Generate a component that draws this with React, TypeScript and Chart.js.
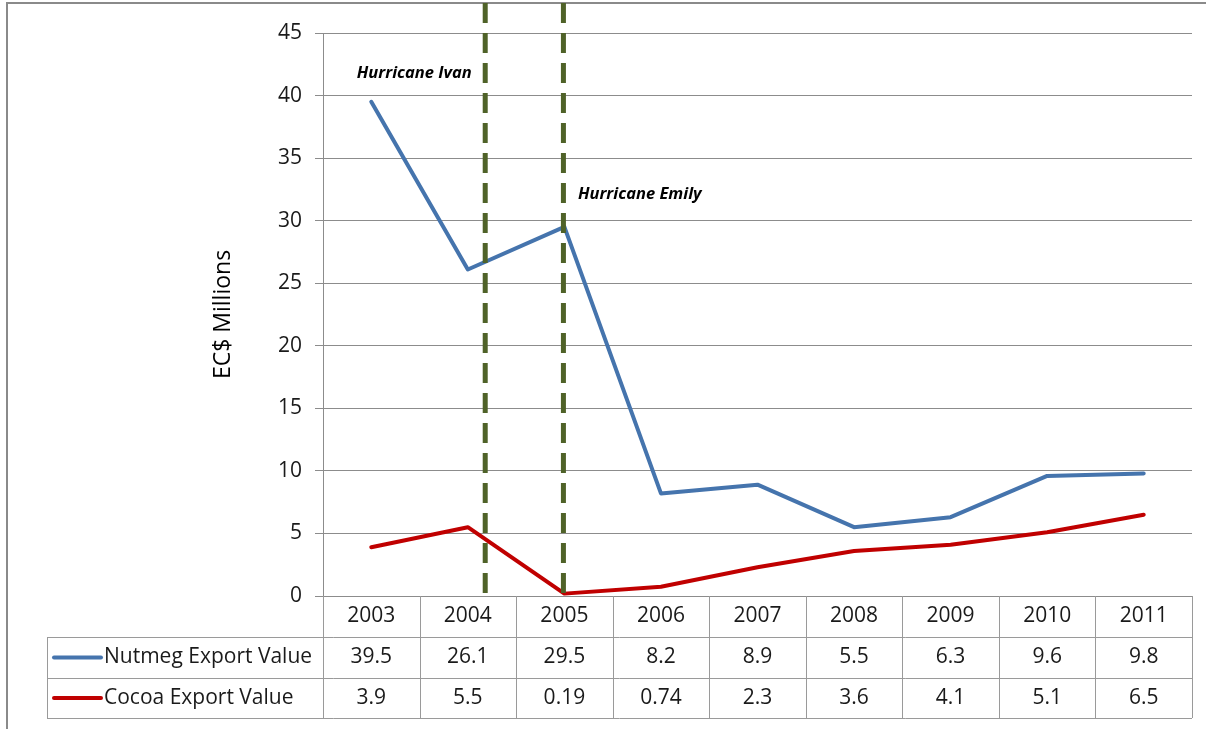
import React, { useEffect, useRef } from 'react';
import { Chart, registerables } from 'chart.js';

Chart.register(...registerables);

// ---- data ----
const categories = ['2003', '2004', '2005', '2006', '2007', '2008', '2009', '2010', '2011'];
const nutmegValues = [39.5, 26.1, 29.5, 8.2, 8.9, 5.5, 6.3, 9.6, 9.8];
const cocoaValues = [3.9, 5.5, 0.19, 0.74, 2.3, 3.6, 4.1, 5.1, 6.5];
const seriesNames = ['Nutmeg Export Value', 'Cocoa Export Value'];
const seriesColors = ['#4574AD', '#C00000'];
const yTickStep = 5;
const yMax = 45;
const axisTitle = 'EC$ Millions';
// hurricane markers (category index positions) and their labels
const eventNames = ['Hurricane Ivan', 'Hurricane Emily'];
const eventIndex = [1.18, 1.99];
const eventLabelIndex = [-0.15, 2.14];
const eventLabelValue = [41.8, 32.1];

const FONT = "'Open Sans', 'Noto Sans', sans-serif";
const TEXT = '#1a1a1a';
const GRID = '#8c8c8c';

const framePlugin = {
  id: 'frame',
  beforeDraw(chart: any) {
    const { ctx, width, height } = chart;
    ctx.save();
    ctx.fillStyle = '#ffffff';
    ctx.fillRect(0, 0, width, height);
    ctx.strokeStyle = '#8a8a8a';
    ctx.lineWidth = 2;
    ctx.beginPath();
    ctx.moveTo(7, height);
    ctx.lineTo(7, 3);
    ctx.lineTo(width, 3);
    ctx.stroke();
    ctx.restore();
  },
};

const eventPlugin = {
  id: 'events',
  afterDatasetsDraw(chart: any) {
    const { ctx, scales, chartArea } = chart;
    const x = scales.x;
    const y = scales.y;
    ctx.save();
    ctx.strokeStyle = '#4F6228';
    ctx.lineWidth = 5;
    ctx.setLineDash([20, 10]);
    eventIndex.forEach((idx) => {
      const px = x.getPixelForValue(idx);
      ctx.beginPath();
      ctx.moveTo(px, 3);
      ctx.lineTo(px, chartArea.bottom + 2);
      ctx.stroke();
    });
    ctx.setLineDash([]);
    ctx.fillStyle = '#000';
    ctx.font = `italic bold 16.5px ${FONT}`;
    ctx.textAlign = 'left';
    ctx.textBaseline = 'middle';
    eventNames.forEach((name, i) => {
      ctx.fillText(name, x.getPixelForValue(eventLabelIndex[i]), y.getPixelForValue(eventLabelValue[i]));
    });
    ctx.restore();
  },
};

const tablePlugin = {
  id: 'dataTable',
  afterDraw(chart: any) {
    const { ctx, chartArea, scales } = chart;
    const x = scales.x;
    const n = categories.length;
    const colW = (chartArea.right - chartArea.left) / n;
    const top = chartArea.bottom;
    const rows = [top, top + 41, top + 82, top + 122];
    const legendLeft = 47;
    const crisp = (v: number) => Math.round(v) + 0.5;
    ctx.save();
    ctx.strokeStyle = '#9a9a9a';
    ctx.lineWidth = 1;
    ctx.beginPath();
    for (let r = 1; r < rows.length; r++) {
      ctx.moveTo(legendLeft, crisp(rows[r]));
      ctx.lineTo(chartArea.right, crisp(rows[r]));
    }
    for (let i = 0; i <= n; i++) {
      const xx = crisp(chartArea.left + i * colW);
      ctx.moveTo(xx, rows[0]);
      ctx.lineTo(xx, rows[3]);
    }
    ctx.moveTo(crisp(legendLeft), rows[1]);
    ctx.lineTo(crisp(legendLeft), rows[3]);
    ctx.stroke();

    ctx.fillStyle = TEXT;
    ctx.font = `21px ${FONT}`;
    ctx.textAlign = 'center';
    ctx.textBaseline = 'middle';
    const rowMid = (r: number) => (rows[r] + rows[r + 1]) / 2;
    categories.forEach((c, i) => {
      const cx = x.getPixelForValue(i);
      ctx.fillText(c, cx, rowMid(0));
      ctx.fillText(String(nutmegValues[i]), cx, rowMid(1));
      ctx.fillText(String(cocoaValues[i]), cx, rowMid(2));
    });

    // legend keys
    ctx.textAlign = 'left';
    seriesNames.forEach((name, r) => {
      const my = rowMid(r + 1);
      ctx.strokeStyle = seriesColors[r];
      ctx.lineWidth = 4;
      ctx.lineCap = 'round';
      ctx.beginPath();
      ctx.moveTo(54, my);
      ctx.lineTo(101, my);
      ctx.stroke();
      ctx.fillStyle = TEXT;
      ctx.fillText(name, 104, my);
    });
    ctx.restore();
  },
};

export default function App() {
  const ref = useRef<HTMLCanvasElement | null>(null);
  useEffect(() => {
    if (!ref.current) return;
    const chart = new Chart(ref.current, {
      type: 'line',
      data: {
        labels: categories,
        datasets: [
          {
            label: seriesNames[0],
            data: nutmegValues,
            borderColor: seriesColors[0],
            borderWidth: 4,
            pointRadius: 0,
            tension: 0,
            borderJoinStyle: 'round',
            borderCapStyle: 'round',
          },
          {
            label: seriesNames[1],
            data: cocoaValues,
            borderColor: seriesColors[1],
            borderWidth: 4,
            pointRadius: 0,
            tension: 0,
            borderJoinStyle: 'round',
            borderCapStyle: 'round',
          },
        ],
      },
      options: {
        responsive: false,
        animation: false,
        devicePixelRatio: 1,
        layout: { padding: { left: 0, top: 33, right: 14, bottom: 133 } },
        plugins: {
          legend: { display: false },
          tooltip: { enabled: false },
        },
        scales: {
          x: {
            display: false,
            offset: true,
          },
          y: {
            min: 0,
            max: yMax,
            ticks: {
              stepSize: yTickStep,
              padding: 13,
              color: TEXT,
              font: { family: FONT, size: 21 },
            },
            grid: { color: GRID, lineWidth: 1, tickLength: 8, drawTicks: true },
            border: { display: true, color: GRID, width: 1 },
            title: {
              display: true,
              text: axisTitle,
              color: '#000',
              font: { family: FONT, size: 23 },
              padding: { top: 210, bottom: 0 },
            },
            afterFit: (s: any) => {
              s.width = 323;
            },
          },
        },
      },
      plugins: [framePlugin, eventPlugin, tablePlugin],
    });
    return () => chart.destroy();
  }, []);
  return (
    <div style={{ position: 'fixed', left: 0, top: 0, width: 1206, height: 729, background: '#fff' }}>
      <canvas ref={ref} width={1206} height={729} style={{ display: 'block' }} />
    </div>
  );
}
